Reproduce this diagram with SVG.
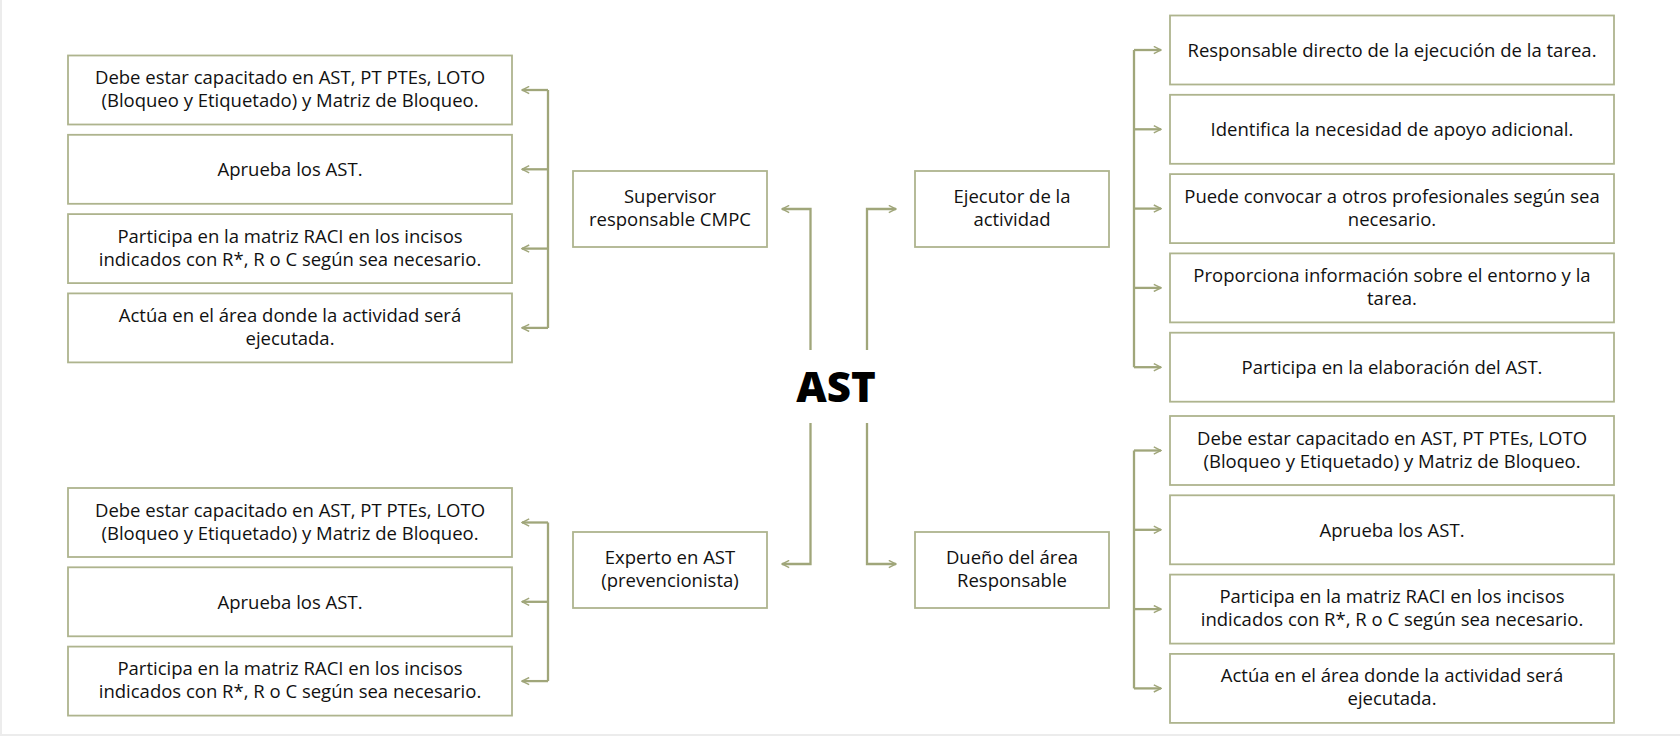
<svg xmlns="http://www.w3.org/2000/svg" width="1680" height="736" viewBox="0 0 1680 736">
<defs>
<marker id="ah" viewBox="0 0 10 10" refX="9" refY="5" markerWidth="9" markerHeight="9" markerUnits="userSpaceOnUse" orient="auto">
<path d="M1,1 L9,5 L1,9" fill="none" stroke="#A0A67A" stroke-width="1.6"/>
</marker>
<style>
.box{fill:#ffffff;stroke:#AEB48E;stroke-width:1.8}
.t{font-family:"Open Sans","Noto Sans","Liberation Sans",sans-serif;font-size:18.5px;fill:#111111;text-anchor:middle}
.c{fill:none;stroke:#A0A67A;stroke-width:2.3}
.title{font-family:"Open Sans","Noto Sans","Liberation Sans",sans-serif;font-size:42px;font-weight:800;fill:#000000;text-anchor:middle}
</style>
</defs>
<rect x="0" y="0" width="1680" height="736" fill="#ffffff"/>
<path d="M1,0 V735 H1680" fill="none" stroke="#ececec" stroke-width="2"/>

<g id="connectors">
<path class="c" d="M810.5,350 V209 H782" marker-end="url(#ah)"/>
<path class="c" d="M867,350 V209 H896" marker-end="url(#ah)"/>
<path class="c" d="M810.5,423 V564 H782" marker-end="url(#ah)"/>
<path class="c" d="M867,423 V564 H896" marker-end="url(#ah)"/>

<path class="c" d="M548,90 V328"/>
<path class="c" d="M548,90 H522" marker-end="url(#ah)"/>
<path class="c" d="M548,169.3 H522" marker-end="url(#ah)"/>
<path class="c" d="M548,248.6 H522" marker-end="url(#ah)"/>
<path class="c" d="M548,327.9 H522" marker-end="url(#ah)"/>

<path class="c" d="M548,522.5 V681.1"/>
<path class="c" d="M548,522.5 H522" marker-end="url(#ah)"/>
<path class="c" d="M548,601.8 H522" marker-end="url(#ah)"/>
<path class="c" d="M548,681.1 H522" marker-end="url(#ah)"/>

<path class="c" d="M1134,50 V367.2"/>
<path class="c" d="M1134,50 H1161" marker-end="url(#ah)"/>
<path class="c" d="M1134,129.3 H1161" marker-end="url(#ah)"/>
<path class="c" d="M1134,208.6 H1161" marker-end="url(#ah)"/>
<path class="c" d="M1134,287.9 H1161" marker-end="url(#ah)"/>
<path class="c" d="M1134,367.2 H1161" marker-end="url(#ah)"/>

<path class="c" d="M1134,450.5 V688.4"/>
<path class="c" d="M1134,450.5 H1161" marker-end="url(#ah)"/>
<path class="c" d="M1134,529.8 H1161" marker-end="url(#ah)"/>
<path class="c" d="M1134,609.1 H1161" marker-end="url(#ah)"/>
<path class="c" d="M1134,688.4 H1161" marker-end="url(#ah)"/>
</g>

<g id="ast"><text class="title" x="836" y="402">AST</text></g>

<g id="supervisor">
<rect class="box" x="573" y="171" width="194" height="76"/>
<text class="t" x="670" y="203">Supervisor</text>
<text class="t" x="670" y="226">responsable CMPC</text>
</g>
<g id="ejecutor">
<rect class="box" x="915" y="171" width="194" height="76"/>
<text class="t" x="1012" y="203">Ejecutor de la</text>
<text class="t" x="1012" y="226">actividad</text>
</g>
<g id="experto">
<rect class="box" x="573" y="532" width="194" height="76"/>
<text class="t" x="670" y="564">Experto en AST</text>
<text class="t" x="670" y="587">(prevencionista)</text>
</g>
<g id="dueno">
<rect class="box" x="915" y="532" width="194" height="76"/>
<text class="t" x="1012" y="564">Dueño del área</text>
<text class="t" x="1012" y="587">Responsable</text>
</g>

<g id="sup-1">
<rect class="box" x="68" y="55.5" width="444" height="69"/>
<text class="t" x="290" y="84">Debe estar capacitado en AST, PT PTEs, LOTO</text>
<text class="t" x="290" y="107">(Bloqueo y Etiquetado) y Matriz de Bloqueo.</text>
</g>
<g id="sup-2">
<rect class="box" x="68" y="134.8" width="444" height="69"/>
<text class="t" x="290" y="176.3">Aprueba los AST.</text>
</g>
<g id="sup-3">
<rect class="box" x="68" y="214.1" width="444" height="69"/>
<text class="t" x="290" y="242.6">Participa en la matriz RACI en los incisos</text>
<text class="t" x="290" y="265.6">indicados con R*, R o C según sea necesario.</text>
</g>
<g id="sup-4">
<rect class="box" x="68" y="293.4" width="444" height="69"/>
<text class="t" x="290" y="321.9">Actúa en el área donde la actividad será</text>
<text class="t" x="290" y="344.9">ejecutada.</text>
</g>

<g id="exp-1">
<rect class="box" x="68" y="488" width="444" height="69"/>
<text class="t" x="290" y="516.5">Debe estar capacitado en AST, PT PTEs, LOTO</text>
<text class="t" x="290" y="539.5">(Bloqueo y Etiquetado) y Matriz de Bloqueo.</text>
</g>
<g id="exp-2">
<rect class="box" x="68" y="567.3" width="444" height="69"/>
<text class="t" x="290" y="608.8">Aprueba los AST.</text>
</g>
<g id="exp-3">
<rect class="box" x="68" y="646.6" width="444" height="69"/>
<text class="t" x="290" y="675.1">Participa en la matriz RACI en los incisos</text>
<text class="t" x="290" y="698.1">indicados con R*, R o C según sea necesario.</text>
</g>

<g id="eje-1">
<rect class="box" x="1170" y="15.5" width="444" height="69"/>
<text class="t" x="1392" y="57">Responsable directo de la ejecución de la tarea.</text>
</g>
<g id="eje-2">
<rect class="box" x="1170" y="94.8" width="444" height="69"/>
<text class="t" x="1392" y="136.3">Identifica la necesidad de apoyo adicional.</text>
</g>
<g id="eje-3">
<rect class="box" x="1170" y="174.1" width="444" height="69"/>
<text class="t" x="1392" y="202.6">Puede convocar a otros profesionales según sea</text>
<text class="t" x="1392" y="225.6">necesario.</text>
</g>
<g id="eje-4">
<rect class="box" x="1170" y="253.4" width="444" height="69"/>
<text class="t" x="1392" y="281.9">Proporciona información sobre el entorno y la</text>
<text class="t" x="1392" y="304.9">tarea.</text>
</g>
<g id="eje-5">
<rect class="box" x="1170" y="332.7" width="444" height="69"/>
<text class="t" x="1392" y="374.2">Participa en la elaboración del AST.</text>
</g>

<g id="due-1">
<rect class="box" x="1170" y="416" width="444" height="69"/>
<text class="t" x="1392" y="444.5">Debe estar capacitado en AST, PT PTEs, LOTO</text>
<text class="t" x="1392" y="467.5">(Bloqueo y Etiquetado) y Matriz de Bloqueo.</text>
</g>
<g id="due-2">
<rect class="box" x="1170" y="495.3" width="444" height="69"/>
<text class="t" x="1392" y="536.8">Aprueba los AST.</text>
</g>
<g id="due-3">
<rect class="box" x="1170" y="574.6" width="444" height="69"/>
<text class="t" x="1392" y="603.1">Participa en la matriz RACI en los incisos</text>
<text class="t" x="1392" y="626.1">indicados con R*, R o C según sea necesario.</text>
</g>
<g id="due-4">
<rect class="box" x="1170" y="653.9" width="444" height="69"/>
<text class="t" x="1392" y="682.4">Actúa en el área donde la actividad será</text>
<text class="t" x="1392" y="705.4">ejecutada.</text>
</g>
</svg>
